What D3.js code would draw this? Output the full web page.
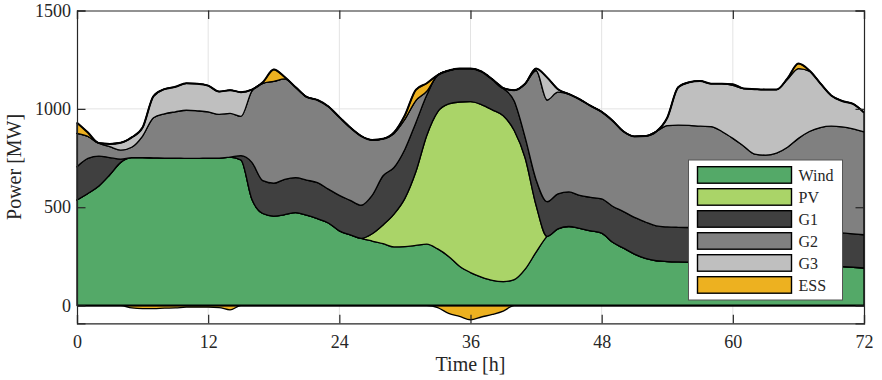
<!DOCTYPE html>
<html>
<head>
<meta charset="utf-8">
<script src="https://cdn.jsdelivr.net/npm/d3@7/dist/d3.min.js"></script>
<style>
  body { margin: 0; background: #fff; }
  svg text { font-family: "Liberation Serif", "DejaVu Serif", serif; fill: #262626; }
</style>
</head>
<body>
<div id="chart"></div>
<script>
// hourly dispatch, 0..72 h (MW)
const hours = d3.range(0, 73);

const wind = [537, 570, 608, 665, 728, 752, 752, 751, 750, 750,
  748, 748, 750, 750, 755, 740, 540, 468, 455, 462,
  473, 460, 442, 420, 380, 360, 342, 328, 315, 298,
  300, 306, 312, 288, 250, 200, 168, 145, 128, 122,
  132, 185, 272, 352, 390, 402, 392, 380, 368, 322,
  292, 262, 240, 228, 224, 222, 221, 220, 219, 218,
  217, 216, 215, 213, 212, 210, 208, 206, 204, 201,
  198, 195, 191];

const pv = [0, 0, 0, 0, 0, 0, 0, 0, 0, 0,
  0, 0, 0, 0, 0, 0, 0, 0, 0, 0,
  0, 0, 0, 0, 0, 0, 0, 37, 95, 167,
  245, 374, 553, 697, 775, 835, 869, 877, 867, 843,
  758, 565, 238, 0, 0, 0, 0, 0, 0, 0,
  0, 0, 0, 0, 0, 0, 0, 0, 0, 0,
  0, 0, 0, 0, 0, 0, 0, 0, 0, 0,
  0, 0, 0];

const g1 = [169, 178, 152, 87, 17, 0, 0, 0, 0, 0,
  0, 0, 0, 0, 0, 22, 188, 167, 167, 180,
  177, 178, 183, 172, 180, 175, 168, 195, 250, 237,
  250, 250, 205, 187, 170, 170, 168, 168, 155, 140,
  150, 105, 130, 176, 178, 176, 168, 170, 174, 183,
  186, 186, 185, 177, 176, 176, 176, 176, 177, 177,
  177, 176, 175, 175, 173, 173, 173, 173, 172, 172,
  171, 170, 169];

const g2 = [169, 112, 66, 56, 45, 53, 110, 204, 225, 235,
  245, 242, 235, 222, 222, 200, 362, 495, 518, 510,
  460, 423, 420, 420, 398, 370, 352, 282, 188, 173,
  153, 112, 20, 0, 0, 0, 0, 0, 0, 0,
  55, 273, 555, 517, 517, 497, 488, 465, 443, 435,
  407, 412, 437, 480, 515, 519, 519, 516, 514, 490,
  456, 418, 380, 377, 390, 422, 469, 506, 529, 539,
  539, 533, 523];

const g3 = [0, 0, 0, 14, 38, 50, 43, 110, 125, 127,
  137, 138, 133, 116, 118, 123, 8, 0, 0, 0,
  0, 0, 0, 0, 0, 0, 0, 0, 0, 0,
  0, 0, 0, 0, 0, 0, 0, 0, 0, 0,
  0, 0, 10, 115, 15, 0, 0, 0, 0, 0,
  0, 0, 0, 0, 40, 193, 219, 230, 218, 243,
  270, 293, 330, 333, 323, 345, 355, 307, 225, 156,
  132, 127, 99];

// storage: positive = discharge, negative = charge
const ess = [55, 20, 0, 0, 0, -12, -15, -15, -13, -12,
  -8, -8, -8, -10, -22, 0, 0, 5, 60, 10,
  0, 0, 0, 0, 0, 0, 0, 0, 0, 5,
  20, 55, 40, -10, -40, -55, -72, -58, -45, -28,
  0, 0, 0, 0, 0, 0, 0, 0, 0, 0,
  0, 0, 0, 0, 0, 0, 0, 0, 0, 0,
  5, 0, 0, 0, 0, 5, 25, 3, 0, 0,
  0, 0, 0];

const seriesNames = ['Wind', 'PV', 'G1', 'G2', 'G3', 'ESS'];
const seriesColors = ['#54a968', '#aad468', '#404040', '#808080', '#bfbfbf', '#edb120'];
const xTicks = [0, 12, 24, 36, 48, 60, 72];
const yTicks = [0, 500, 1000, 1500];

const width = 882;
const height = 380;
const margin = { top: 10.5, right: 18, bottom: 56.7, left: 77 };

const svg = d3.select('#chart')
  .append('svg')
  .attr('width', width)
  .attr('height', height);

const x = d3.scaleLinear().domain([0, 72]).range([margin.left, width - margin.right]);
const y = d3.scaleLinear().domain([-90, 1500]).range([height - margin.bottom, margin.top]);

// grid
const grid = svg.append('g').attr('stroke', '#e3e3e3').attr('stroke-width', 1);
grid.selectAll('line.gx')
  .data(xTicks.slice(1, -1))
  .join('line')
  .attr('x1', (d) => x(d)).attr('x2', (d) => x(d))
  .attr('y1', y(1500)).attr('y2', y(-90));
grid.selectAll('line.gy')
  .data(yTicks.slice(1, -1))
  .join('line')
  .attr('x1', x(0)).attr('x2', x(72))
  .attr('y1', (d) => y(d)).attr('y2', (d) => y(d));

// stacked areas (positive side)
const rows = hours.map((h, i) => ({
  h,
  Wind: wind[i],
  PV: pv[i],
  G1: g1[i],
  G2: g2[i],
  G3: g3[i],
  ESS: Math.max(ess[i], 0),
}));
const stacked = d3.stack().keys(seriesNames)(rows);

const area = d3.area()
  .x((d) => x(d.data.h))
  .y0((d) => y(d[0]))
  .y1((d) => y(d[1]))
  .curve(d3.curveMonotoneX);

svg.append('g')
  .selectAll('path')
  .data(stacked)
  .join('path')
  .attr('d', area)
  .attr('fill', (s, i) => seriesColors[i])
  .attr('stroke', '#000')
  .attr('stroke-width', 1.3)
  .attr('stroke-linejoin', 'round');

// charging below zero
const essNeg = d3.area()
  .x((d, i) => x(hours[i]))
  .y0(y(0))
  .y1((d) => y(Math.min(d, 0)))
  .curve(d3.curveMonotoneX);
svg.append('path')
  .datum(ess)
  .attr('d', essNeg)
  .attr('fill', seriesColors[5])
  .attr('stroke', '#000')
  .attr('stroke-width', 1.3);

// outer envelope + zero line
const envelope = stacked[stacked.length - 1];
svg.append('path')
  .datum(envelope)
  .attr('d', d3.line().x((d) => x(d.data.h)).y((d) => y(d[1])).curve(d3.curveMonotoneX))
  .attr('fill', 'none')
  .attr('stroke', '#000')
  .attr('stroke-width', 2);
svg.append('line')
  .attr('x1', x(0)).attr('x2', x(72))
  .attr('y1', y(0)).attr('y2', y(0))
  .attr('stroke', '#000')
  .attr('stroke-width', 2);

// axes, ticks inward, box on
const tickLen = 8.5;
const xb = svg.append('g')
  .attr('transform', `translate(0,${y(-90)})`)
  .call(d3.axisBottom(x).tickValues(xTicks).tickSize(-tickLen).tickPadding(12).tickFormat(d3.format('d')));
const xt = svg.append('g')
  .attr('transform', `translate(0,${y(1500)})`)
  .call(d3.axisTop(x).tickValues(xTicks).tickSize(-tickLen).tickFormat(''));
const yl = svg.append('g')
  .attr('transform', `translate(${x(0)},0)`)
  .call(d3.axisLeft(y).tickValues(yTicks).tickSize(-tickLen).tickPadding(6).tickFormat(d3.format('d')));
const yr = svg.append('g')
  .attr('transform', `translate(${x(72)},0)`)
  .call(d3.axisRight(y).tickValues(yTicks).tickSize(-tickLen).tickFormat(''));

[xb, xt, yl, yr].forEach((g) => {
  g.select('.domain').attr('stroke', '#262626').attr('stroke-width', 1.2);
  g.selectAll('.tick line').attr('stroke', '#262626').attr('stroke-width', 1.2);
  g.selectAll('.tick text')
    .attr('fill', '#262626')
    .style('font-family', '"Liberation Serif", serif')
    .style('font-size', '18px');
});

// axis labels
svg.append('text')
  .attr('x', (x(0) + x(72)) / 2)
  .attr('y', 371)
  .attr('text-anchor', 'middle')
  .style('font-size', '20px')
  .text('Time [h]');
svg.append('text')
  .attr('transform', `translate(21,${(y(-90) + y(1500)) / 2}) rotate(-90)`)
  .attr('text-anchor', 'middle')
  .style('font-size', '20px')
  .text('Power [MW]');

// legend
const lg = svg.append('g').attr('transform', 'translate(688.5,160)');
lg.append('rect')
  .attr('width', 154)
  .attr('height', 140)
  .attr('fill', '#fff')
  .attr('stroke', '#555')
  .attr('stroke-width', 1);
const item = lg.selectAll('g.item')
  .data(seriesNames)
  .join('g')
  .attr('class', 'item')
  .attr('transform', (d, i) => `translate(9,${6.7 + i * 22})`);
item.append('rect')
  .attr('width', 94)
  .attr('height', 16.5)
  .attr('fill', (d, i) => seriesColors[i])
  .attr('stroke', '#000')
  .attr('stroke-width', 1.4);
item.append('text')
  .attr('x', 101)
  .attr('y', 14.5)
  .style('font-size', '16px')
  .text((d) => d);
</script>
</body>
</html>
